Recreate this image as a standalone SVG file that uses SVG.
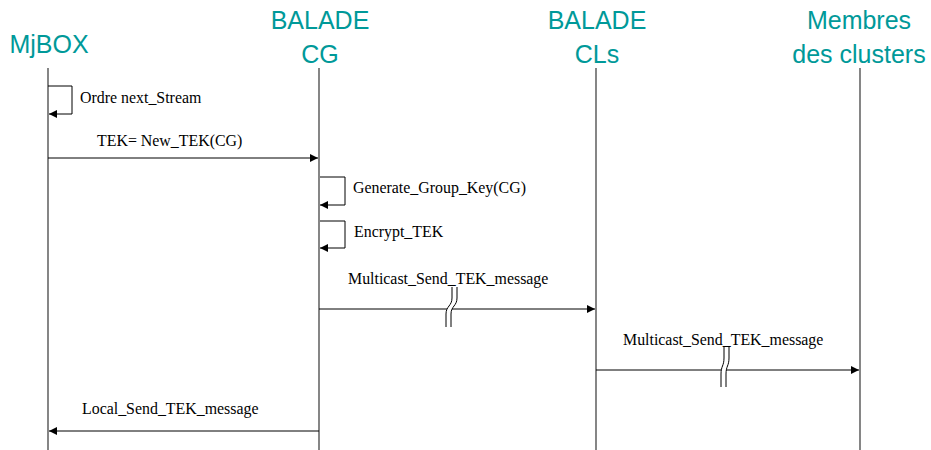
<svg xmlns="http://www.w3.org/2000/svg" width="931" height="450" viewBox="0 0 931 450">
<style>
.hd{font-family:"Liberation Sans",Arial,sans-serif;font-size:25px;fill:#009999;text-anchor:middle}
.lb{font-family:"Liberation Serif","Times New Roman",serif;font-size:15.9px;fill:#000}
.life{stroke:#444;stroke-width:1.3;fill:none}
.msg{stroke:#000;stroke-width:1;fill:none}
.brk{fill:#fff;stroke:none}
</style>
<defs>
<marker id="ah" viewBox="0 0 10 10" refX="10" refY="5" markerWidth="9" markerHeight="8" markerUnits="userSpaceOnUse" orient="auto">
<path d="M0,0 L10,5 L0,10 z" fill="#000"/>
</marker>
</defs>
<g id="mjbox"><text class="hd" x="49" y="53">MjBOX</text><line class="life" x1="48" y1="68" x2="48" y2="450"/></g>
<g id="balade-cg"><text class="hd" x="320" y="29">BALADE</text><text class="hd" x="320" y="63">CG</text><line class="life" x1="319" y1="68" x2="319" y2="450"/></g>
<g id="balade-cls"><text class="hd" x="597" y="29">BALADE</text><text class="hd" x="597" y="63">CLs</text><line class="life" x1="596" y1="68" x2="596" y2="450"/></g>
<g id="membres"><text class="hd" x="859" y="29">Membres</text><text class="hd" x="859" y="63">des clusters</text><line class="life" x1="860" y1="68" x2="860" y2="450"/></g>
<g id="connectors">
<path class="msg" d="M48,86 H72 V114 H49" marker-end="url(#ah)"/>
<text class="lb" x="80" y="103">Ordre next_Stream</text>
<text class="lb" x="97" y="146">TEK= New_TEK(CG)</text>
<path class="msg" d="M48,158 H318" marker-end="url(#ah)"/>
<path class="msg" d="M320,177 H345 V205 H320" marker-end="url(#ah)"/>
<text class="lb" x="353" y="193">Generate_Group_Key(CG)</text>
<path class="msg" d="M320,221 H345 V248 H320" marker-end="url(#ah)"/>
<text class="lb" x="354" y="237">Encrypt_TEK</text>
<text class="lb" x="348" y="284">Multicast_Send_TEK_message</text>
<path class="msg" d="M319,309 H595" marker-end="url(#ah)"/>
<path class="brk" d="M452,287 V298 C452,306 446,306 446,314 V327 H451 V314 C451,306 457,306 457,298 V287 Z"/>
<path class="msg" d="M452,287 V298 C452,306 446,306 446,314 V327 M457,287 V298 C457,306 451,306 451,314 V327"/>
<text class="lb" x="623" y="345">Multicast_Send_TEK_message</text>
<path class="msg" d="M596,370 H859" marker-end="url(#ah)"/>
<path class="brk" d="M724,347 V358 C724,366 721,366 721,374 V387 H726 V374 C726,366 729,366 729,358 V347 Z"/>
<path class="msg" d="M724,347 V358 C724,366 721,366 721,374 V387 M729,347 V358 C729,366 726,366 726,374 V387"/>
<text class="lb" x="82" y="414">Local_Send_TEK_message</text>
<path class="msg" d="M319,431 H49" marker-end="url(#ah)"/>
</g>
</svg>
